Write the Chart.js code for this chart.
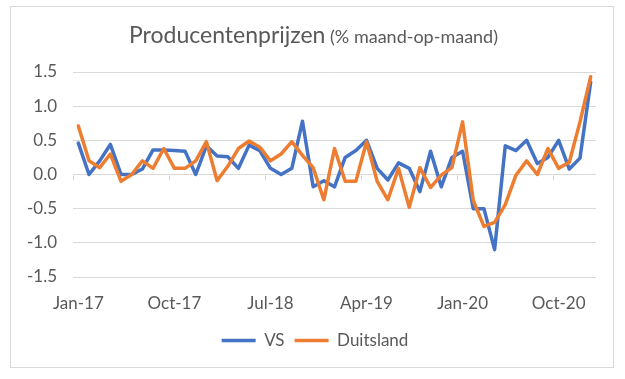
<!DOCTYPE html>
<html>
<head>
<meta charset="utf-8">
<script src="https://cdn.jsdelivr.net/npm/chart.js@4/dist/chart.umd.min.js"></script>
<style>
  html, body { margin: 0; padding: 0; background: #ffffff; }
  #wrap { width: 625px; height: 379px; position: relative; }
</style>
</head>
<body>
<div id="wrap"><canvas id="c" width="625" height="379"></canvas></div>
<script>
// ---- Data ----
const months = [
  'Jan-17','Feb-17','Mar-17','Apr-17','May-17','Jun-17','Jul-17','Aug-17','Sep-17','Oct-17','Nov-17','Dec-17',
  'Jan-18','Feb-18','Mar-18','Apr-18','May-18','Jun-18','Jul-18','Aug-18','Sep-18','Oct-18','Nov-18','Dec-18',
  'Jan-19','Feb-19','Mar-19','Apr-19','May-19','Jun-19','Jul-19','Aug-19','Sep-19','Oct-19','Nov-19','Dec-19',
  'Jan-20','Feb-20','Mar-20','Apr-20','May-20','Jun-20','Jul-20','Aug-20','Sep-20','Oct-20','Nov-20','Dec-20',
  'Jan-21'
];
const vsValues = [
  0.46, 0.00, 0.20, 0.44, 0.00, 0.00, 0.08, 0.36, 0.36, 0.35, 0.34, 0.00,
  0.42, 0.27, 0.26, 0.09, 0.43, 0.35, 0.09, 0.00, 0.09, 0.78, -0.18, -0.09,
  -0.18, 0.25, 0.35, 0.50, 0.09, -0.08, 0.17, 0.09, -0.25, 0.34, -0.18, 0.25,
  0.34, -0.50, -0.50, -1.10, 0.42, 0.35, 0.50, 0.16, 0.25, 0.50, 0.08, 0.24,
  1.35
];
const duitslandValues = [
  0.71, 0.20, 0.10, 0.30, -0.10, 0.00, 0.20, 0.09, 0.38, 0.09, 0.09, 0.20,
  0.48, -0.09, 0.12, 0.38, 0.49, 0.40, 0.20, 0.30, 0.48, 0.28, 0.10, -0.37,
  0.38, -0.10, -0.10, 0.48, -0.10, -0.37, 0.09, -0.48, 0.10, -0.19, -0.01, 0.10,
  0.77, -0.38, -0.76, -0.70, -0.44, -0.01, 0.20, 0.00, 0.38, 0.09, 0.18, 0.77,
  1.43
];
const xTickLabels = ['Jan-17','Oct-17','Jul-18','Apr-19','Jan-20','Oct-20'];
const seriesNames = ['VS', 'Duitsland'];
const titleMain = 'Producentenprijzen';
const titleSub = '(% maand-op-maand)';

const TEXT = '#595959';
const FONT = 'Lato, "Open Sans", sans-serif';

// frame + white background
const framePlugin = {
  id: 'frame',
  beforeDraw(chart) {
    const ctx = chart.ctx;
    ctx.save();
    ctx.fillStyle = '#ffffff';
    ctx.fillRect(0, 0, chart.width, chart.height);
    ctx.strokeStyle = '#d9d9d9';
    ctx.lineWidth = 1;
    ctx.strokeRect(10.5, 6.5, 603, 361);
    ctx.restore();
  }
};

// two-size title
const titlePlugin = {
  id: 'twoTitle',
  afterDraw(chart) {
    const ctx = chart.ctx;
    ctx.save();
    ctx.fillStyle = TEXT;
    ctx.textBaseline = 'alphabetic';
    const f1 = '23px ' + FONT, f2 = '18px ' + FONT;
    ctx.font = f1; const w1 = ctx.measureText(titleMain).width;
    ctx.font = f2; const w2 = ctx.measureText(' ' + titleSub).width;
    const x0 = 313.5 - (w1 + w2) / 2;
    ctx.font = f1; ctx.fillText(titleMain, x0, 43);
    ctx.font = f2; ctx.fillText(' ' + titleSub, x0 + w1, 43);
    ctx.restore();
  }
};

// shift the legend block so it is centred like the reference
const legendShiftPlugin = {
  id: 'legendShift',
  afterLayout(chart) {
    if (chart.legend) { chart.legend.left += 11; chart.legend.right += 11; }
  }
};

// small tick marks on the zero line between category groups
const tickMarkPlugin = {
  id: 'zeroTicks',
  beforeDatasetsDraw(chart) {
    const xs = chart.scales.x, ys = chart.scales.y;
    const ctx = chart.ctx;
    const half = (xs.getPixelForValue(1) - xs.getPixelForValue(0)) / 2;
    const y0 = Math.round(ys.getPixelForValue(0)) + 0.5;
    ctx.save();
    ctx.strokeStyle = '#d9d9d9';
    ctx.lineWidth = 1;
    for (let i = 0; i < months.length; i += 9) {
      const x = Math.round(xs.getPixelForValue(i) - half) + 0.5;
      ctx.beginPath(); ctx.moveTo(x, y0); ctx.lineTo(x, y0 + 5); ctx.stroke();
    }
    ctx.restore();
  }
};

new Chart(document.getElementById('c'), {
  type: 'line',
  data: {
    labels: months,
    datasets: [
      {
        label: seriesNames[0], data: vsValues,
        borderColor: '#4472C4', backgroundColor: '#4472C4',
        borderWidth: 3.5, pointRadius: 0, tension: 0,
        borderJoinStyle: 'round', borderCapStyle: 'round', order: 1
      },
      {
        label: seriesNames[1], data: duitslandValues,
        borderColor: '#ED7D31', backgroundColor: '#ED7D31',
        borderWidth: 3.5, pointRadius: 0, tension: 0,
        borderJoinStyle: 'round', borderCapStyle: 'round', order: 0
      }
    ]
  },
  options: {
    responsive: false,
    animation: false,
    devicePixelRatio: 1,
    layout: { padding: { top: 72, left: 12, right: 29, bottom: 20 } },
    plugins: {
      title: { display: false },
      tooltip: { enabled: false },
      legend: {
        display: true,
        position: 'bottom',
        labels: {
          usePointStyle: true,
          pointStyle: 'line',
          pointStyleWidth: 34,
          color: TEXT,
          font: { family: FONT, size: 17 },
          padding: 10,
          sort: (a, b) => a.datasetIndex - b.datasetIndex
        }
      }
    },
    scales: {
      x: {
        type: 'category',
        offset: true,
        grid: { display: false, drawTicks: false },
        border: { display: false },
        ticks: {
          autoSkip: false, maxRotation: 0, minRotation: 0,
          padding: 16,
          color: TEXT,
          font: { family: FONT, size: 17 },
          callback: (v, i) => (xTickLabels.includes(months[i]) ? months[i] : '')
        },
        afterFit: (s) => { s.height = 45; }
      },
      y: {
        min: -1.5, max: 1.5,
        grid: { color: '#d9d9d9', lineWidth: 1, drawTicks: false },
        border: { display: false },
        ticks: {
          stepSize: 0.5,
          padding: 16,
          color: TEXT,
          font: { family: FONT, size: 17 },
          callback: (v) => Number(v).toFixed(1)
        },
        afterFit: (s) => { s.width = 61; }
      }
    }
  },
  plugins: [framePlugin, titlePlugin, legendShiftPlugin, tickMarkPlugin]
});
</script>
</body>
</html>
